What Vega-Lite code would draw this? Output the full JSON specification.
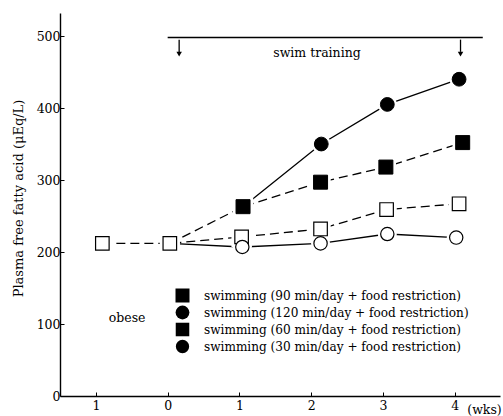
{
  "$schema": "https://vega.github.io/schema/vega-lite/v6.json",
  "width": 440,
  "height": 383,
  "autosize": {"type": "none"},
  "padding": {"left": 60, "top": 13, "right": 3, "bottom": 20},
  "background": "white",
  "config": {
    "view": {"stroke": null},
    "font": "DejaVu Serif",
    "axis": {
      "domainColor": "black", "domainWidth": 1.4, "tickColor": "black", "tickWidth": 1,
      "labelColor": "black", "labelFont": "DejaVu Serif", "labelFontSize": 12.5,
      "grid": false, "titleColor": "black", "titleFont": "DejaVu Serif", "titleFontWeight": "normal"
    },
    "legend": {
      "title": null, "orient": "none", "legendX": 115, "legendY": 275, "padding": 0, "rowPadding": -4,
      "labelFont": "DejaVu Serif", "labelFontSize": 12.1, "labelColor": "black", "labelLimit": 500, "labelOffset": 14,
      "symbolStrokeWidth": 1, "symbolStrokeColor": "black", "symbolFillColor": "black"
    }
  },
  "datasets": {
    "ffa": [
      {"series": "swimming (60 min/day + food restriction)", "x": -0.91, "y": 212, "shared": false},
      {"series": "swimming (60 min/day + food restriction)", "x": 0.03, "y": 212, "shared": false},
      {"series": "swimming (60 min/day + food restriction)", "x": 1.03, "y": 221, "shared": false},
      {"series": "swimming (60 min/day + food restriction)", "x": 2.13, "y": 232, "shared": false},
      {"series": "swimming (60 min/day + food restriction)", "x": 3.05, "y": 259, "shared": false},
      {"series": "swimming (60 min/day + food restriction)", "x": 4.06, "y": 267, "shared": false},
      {"series": "swimming (30 min/day + food restriction)", "x": 0.03, "y": 212, "shared": true},
      {"series": "swimming (30 min/day + food restriction)", "x": 1.04, "y": 207, "shared": false},
      {"series": "swimming (30 min/day + food restriction)", "x": 2.13, "y": 212, "shared": false},
      {"series": "swimming (30 min/day + food restriction)", "x": 3.06, "y": 225, "shared": false},
      {"series": "swimming (30 min/day + food restriction)", "x": 4.02, "y": 220, "shared": false},
      {"series": "swimming (90 min/day + food restriction)", "x": 0.03, "y": 212, "shared": true},
      {"series": "swimming (90 min/day + food restriction)", "x": 1.05, "y": 263, "shared": false},
      {"series": "swimming (90 min/day + food restriction)", "x": 2.13, "y": 297, "shared": false},
      {"series": "swimming (90 min/day + food restriction)", "x": 3.04, "y": 318, "shared": false},
      {"series": "swimming (90 min/day + food restriction)", "x": 4.11, "y": 352, "shared": false},
      {"series": "swimming (120 min/day + food restriction)", "x": 1.05, "y": 263, "shared": true},
      {"series": "swimming (120 min/day + food restriction)", "x": 2.14, "y": 350, "shared": false},
      {"series": "swimming (120 min/day + food restriction)", "x": 3.06, "y": 405, "shared": false},
      {"series": "swimming (120 min/day + food restriction)", "x": 4.06, "y": 440, "shared": false}
    ],
    "period": [{"x": 0.0, "x2": 4.39, "y": 498}],
    "arrows": [{"x": 0.16, "y": 495, "y2": 478}, {"x": 4.08, "y": 495, "y2": 478}],
    "heads": [{"x": 0.16, "y": 475}, {"x": 4.08, "y": 475}],
    "notes": [{"x": 2.08, "y": 476, "text": "swim training"}, {"x": -0.565, "y": 108, "text": "obese"}]
  },
  "encoding": {
    "x": {
      "field": "x", "type": "quantitative",
      "scale": {"domain": [-1.5, 4.63], "nice": false, "zero": false},
      "axis": {
        "values": [-1, 0, 1, 2, 3, 4], "labelExpr": "'' + abs(datum.value)",
        "tickSize": -4, "labelPadding": 7, "labelFlush": false,
        "title": "(wks)", "titleX": 424, "titleY": 13, "titleAlign": "center", "titleBaseline": "middle", "titleFontSize": 12.5
      }
    },
    "y": {
      "field": "y", "type": "quantitative",
      "scale": {"domain": [0, 532], "nice": false},
      "axis": {
        "values": [0, 100, 200, 300, 400, 500], "tickSize": -4, "labelPadding": 4,
        "title": "Plasma free fatty acid (μEq/L)", "titleFontSize": 13,
        "titleX": -42, "titleY": 185, "titleAngle": -90, "titleAlign": "center", "titleBaseline": "middle"
      }
    }
  },
  "layer": [
    {
      "data": {"name": "ffa"},
      "transform": [{"filter": {"field": "series", "oneOf": ["swimming (90 min/day + food restriction)", "swimming (60 min/day + food restriction)"]}}],
      "mark": {"type": "line", "color": "black", "strokeWidth": 1.3, "strokeDash": [9, 5]},
      "encoding": {"detail": {"field": "series"}}
    },
    {
      "data": {"name": "ffa"},
      "transform": [{"filter": {"field": "series", "oneOf": ["swimming (120 min/day + food restriction)", "swimming (30 min/day + food restriction)"]}}],
      "mark": {"type": "line", "color": "black", "strokeWidth": 1.3},
      "encoding": {"detail": {"field": "series"}}
    },
    {
      "data": {"name": "ffa"},
      "transform": [
        {"filter": "!datum.shared"},
        {"filter": {"field": "series", "oneOf": ["swimming (90 min/day + food restriction)", "swimming (60 min/day + food restriction)"]}}
      ],
      "mark": {"type": "point", "shape": "square", "size": 177, "filled": true, "fill": "white", "stroke": "white", "strokeWidth": 7, "opacity": 1},
      "encoding": {}
    },
    {
      "data": {"name": "ffa"},
      "transform": [
        {"filter": "!datum.shared"},
        {"filter": {"field": "series", "oneOf": ["swimming (120 min/day + food restriction)", "swimming (30 min/day + food restriction)"]}}
      ],
      "mark": {"type": "point", "shape": "circle", "size": 145, "filled": true, "fill": "white", "stroke": "white", "strokeWidth": 7, "opacity": 1},
      "encoding": {}
    },
    {
      "data": {"name": "ffa"},
      "transform": [
        {"filter": "!datum.shared"},
        {"filter": {"field": "series", "oneOf": ["swimming (90 min/day + food restriction)", "swimming (120 min/day + food restriction)"]}}
      ],
      "mark": {"type": "point", "filled": true, "fill": "black", "stroke": "black", "strokeWidth": 1, "opacity": 1},
      "encoding": {
        "shape": {
          "field": "series", "type": "nominal",
          "scale": {
            "domain": ["swimming (90 min/day + food restriction)", "swimming (120 min/day + food restriction)", "swimming (60 min/day + food restriction)", "swimming (30 min/day + food restriction)"],
            "range": ["square", "circle", "square", "circle"]
          }
        },
        "size": {
          "field": "series", "type": "nominal",
          "scale": {
            "domain": ["swimming (90 min/day + food restriction)", "swimming (120 min/day + food restriction)", "swimming (60 min/day + food restriction)", "swimming (30 min/day + food restriction)"],
            "range": [196, 177, 160, 113]
          }
        }
      }
    },
    {
      "data": {"name": "ffa"},
      "transform": [
        {"filter": "!datum.shared"},
        {"filter": {"field": "series", "oneOf": ["swimming (60 min/day + food restriction)", "swimming (30 min/day + food restriction)"]}}
      ],
      "mark": {"type": "point", "filled": true, "fill": "white", "stroke": "black", "strokeWidth": 1.2, "opacity": 1},
      "encoding": {
        "shape": {"field": "series", "type": "nominal"},
        "size": {"field": "series", "type": "nominal"}
      }
    },
    {
      "data": {"name": "period"},
      "mark": {"type": "rule", "color": "black", "strokeWidth": 1.4},
      "encoding": {"x2": {"field": "x2"}}
    },
    {
      "data": {"name": "arrows"},
      "mark": {"type": "rule", "color": "black", "strokeWidth": 1.3},
      "encoding": {"y2": {"field": "y2"}}
    },
    {
      "data": {"name": "heads"},
      "mark": {"type": "point", "shape": "triangle-down", "filled": true, "color": "black", "size": 30, "opacity": 1},
      "encoding": {}
    },
    {
      "data": {"name": "notes"},
      "mark": {"type": "text", "font": "DejaVu Serif", "fontSize": 12.5, "color": "black", "align": "center", "baseline": "middle"},
      "encoding": {"text": {"field": "text"}}
    }
  ]
}
